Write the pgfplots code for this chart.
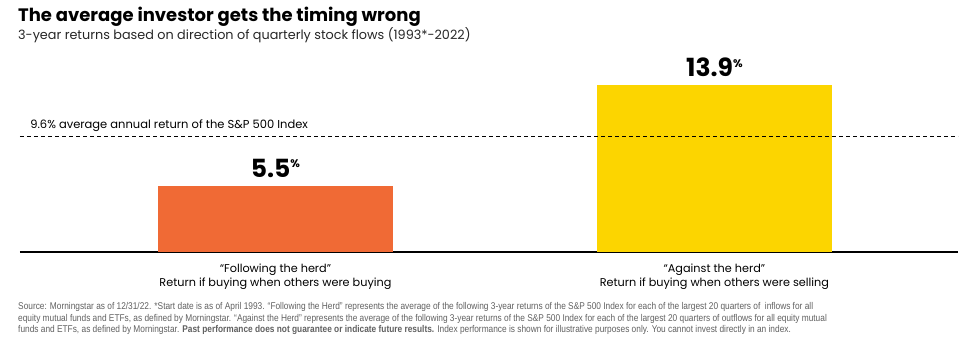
\documentclass[border=0pt]{standalone}
\usepackage{pgfplots}
\pgfplotsset{compat=1.18}
\usepackage{fontspec}
\setmainfont{Poppins}
\newfontfamily\titlefont{Poppins}
\newfontfamily\narrow[FakeStretch=0.85]{Liberation Sans}
\definecolor{herdorange}{HTML}{F06A35}
\definecolor{herdyellow}{HTML}{FCD500}
\definecolor{notegray}{HTML}{606060}
\begin{document}
\begin{tikzpicture}
\useasboundingbox (0pt,0pt) rectangle (964pt,356pt);
% title and subtitle
\node[anchor=base west, inner sep=0, font=\titlefont\bfseries\fontsize{18}{20}\selectfont] at (18pt,334pt) {The average investor gets the timing wrong};
\node[anchor=base west, inner sep=0, font=\fontsize{12.8}{14}\selectfont, text=black!85] at (18pt,316pt) {3-year returns based on direction of quarterly stock flows (1993*-2022)};
\begin{axis}[
  at={(20pt,104pt)}, anchor=south west,
  scale only axis, width=938pt, height=180pt,
  xmin=-0.582, xmax=1.555, ymin=0, ymax=15,
  axis x line=bottom, axis y line=none,
  x axis line style={-, line width=1.5pt},
  xtick=\empty, ytick=\empty,
  clip=false,
]
\addplot[ybar, bar width=235pt, bar shift=0pt, fill=herdorange, draw=none] coordinates {(0,5.5)};
\addplot[ybar, bar width=235pt, bar shift=0pt, fill=herdyellow, draw=none] coordinates {(1,13.9)};
\addplot[black, line width=1.3pt, dash pattern=on 4pt off 3pt] coordinates {(-0.582,9.6) (1.555,9.6)};
\node[anchor=base, inner sep=0, font=\titlefont\bfseries\fontsize{25}{28}\selectfont] at (axis cs:0,5.5) [yshift=8.5pt] {5.5\raisebox{9.5pt}{\fontsize{11}{12}\selectfont\%}};
\node[anchor=base, inner sep=0, font=\titlefont\bfseries\fontsize{25}{28}\selectfont] at (axis cs:1,13.9) [yshift=8.5pt] {13.9\raisebox{9.5pt}{\fontsize{11}{12}\selectfont\%}};
\node[anchor=base west, inner sep=0, font=\fontsize{11.5}{12}\selectfont] at (axis cs:-0.559,9.6) [yshift=8.5pt] {9.6\% average annual return of the S\&P 500 Index};
\node[anchor=base, align=center, inner sep=0, font=\fontsize{11.25}{14.5}\selectfont] at (axis cs:0,0) [yshift=-35pt] {“Following the herd”\\Return if buying when others were buying};
\node[anchor=base, align=center, inner sep=0, font=\fontsize{11.25}{14.5}\selectfont] at (axis cs:1,0) [yshift=-35pt] {“Against the herd”\\Return if buying when others were selling};
\end{axis}
\node[anchor=base west, align=left, inner sep=0, text=notegray, font=\narrow\fontsize{9.8}{11.8}\selectfont] at (18pt,23pt) {Source: Morningstar as of 12/31/22. *Start date is as of April 1993. “Following the Herd” represents the average of the following 3-year returns of the S\&P 500 Index for each of the largest 20 quarters of \ inflows for all\\equity mutual funds and ETFs, as defined by Morningstar. “Against the Herd” represents the average of the following 3-year returns of the S\&P 500 Index for each of the largest 20 quarters of outflows for all equity mutual\\funds and ETFs, as defined by Morningstar. \textbf{Past performance does not guarantee or indicate future results.} Index performance is shown for illustrative purposes only. You cannot invest directly in an index.};
\end{tikzpicture}
\end{document}
